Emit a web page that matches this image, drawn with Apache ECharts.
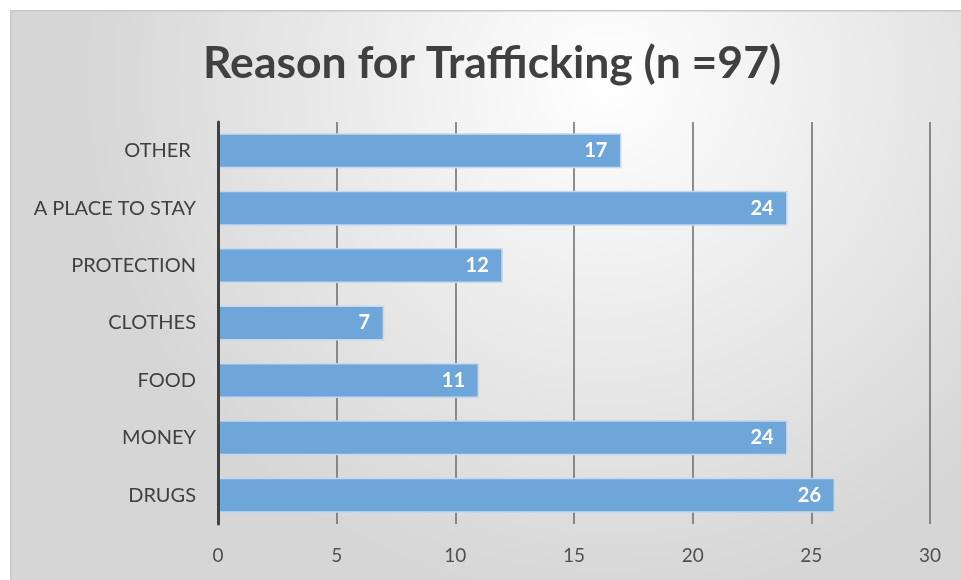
<!DOCTYPE html>
<html><head><meta charset="utf-8">
<script src="https://cdn.jsdelivr.net/npm/echarts@6/dist/echarts.min.js"></script>
<style>html,body{margin:0;padding:0;background:#fff}#c{width:961px;height:580px}</style>
</head><body><div id="c"></div>
<script>
const categories = ['DRUGS','MONEY','FOOD','CLOTHES','PROTECTION','A PLACE TO STAY','OTHER '];
const values = [26,24,11,7,12,24,17];
const titleText = 'Reason for Trafficking (n =97)';
const xTicks = [0,5,10,15,20,25,30];

const chart = echarts.init(document.getElementById('c'), null, {renderer:'canvas'});
chart.setOption({
  animation:false,
  backgroundColor:'#ffffff',
  graphic:[{
    type:'rect', left:10, top:10, z:-10,
    shape:{width:960, height:580},
    style:{
      fill:{type:'radial', x:0.62, y:0.12, r:0.9, colorStops:[{offset:0,color:'#ffffff'},{offset:1,color:'#d6d6d6'}]},
      stroke:'#c8c8c8', lineWidth:1.5
    }
  }],
  title:{
    text:titleText, left:198, top:36,
    textStyle:{fontFamily:'Lato', fontWeight:'bold', fontSize:44.5, color:'#404040'}
  },
  grid:{left:218, right:31, top:122, bottom:56, containLabel:false},
  xAxis:{
    type:'value', min:0, max:30, interval:5,
    axisLine:{show:false}, axisTick:{show:false},
    splitLine:{show:true, lineStyle:{color:'#6a6a6a', width:1.5}},
    axisLabel:{color:'#505050', fontSize:19, fontFamily:'Lato', margin:22,
      formatter:v=>xTicks.includes(v)?String(v):''}
  },
  yAxis:{
    type:'category', data:categories, z:5,
    axisLine:{show:true, lineStyle:{color:'#404040', width:3}},
    axisTick:{show:false},
    axisLabel:{color:'#404040', fontSize:20, fontFamily:'Lato', margin:22}
  },
  series:[{
    type:'bar', data:values, barWidth:35,
    itemStyle:{color:'#6fa6da', borderColor:'#c4d8ee', borderWidth:1.5},
    label:{show:true, position:'insideRight', distance:14, color:'#ffffff',
      fontWeight:'bold', fontSize:20, fontFamily:'Lato'}
  }]
});
</script></body></html>
